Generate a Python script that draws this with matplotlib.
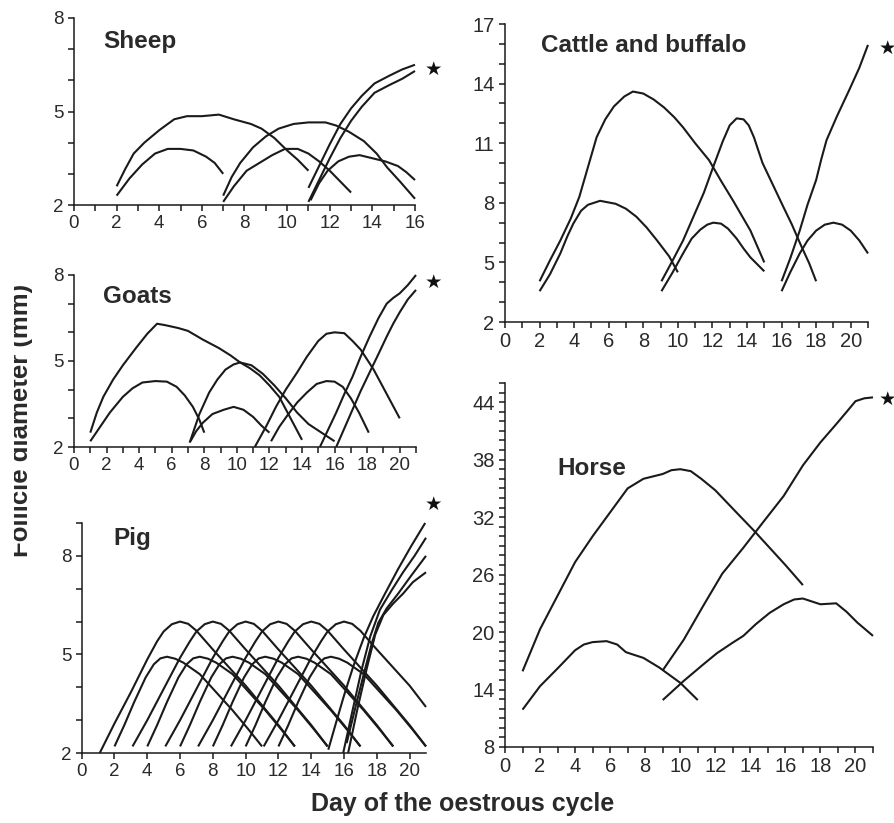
import matplotlib
matplotlib.use("Agg")
import matplotlib.pyplot as plt
from matplotlib.ticker import FixedLocator, NullFormatter
from matplotlib.transforms import Bbox

plt.rcParams['font.family'] = ['Liberation Sans', 'DejaVu Sans']

W, H = 895, 823
LINE = '#1a1a1a'
TXT = '#2a2a2a'

# ---------------- Sheep ----------------
sheep_days = [
    [2, 2.4, 2.8, 3.3, 4, 4.7, 5.3, 6, 6.8, 7.5, 8.3, 8.8, 9.4, 10, 10.5, 11],
    [2, 2.6, 3.2, 3.8, 4.4, 5, 5.6, 6.2, 6.6, 7],
    [7, 7.4, 7.8, 8.4, 9, 9.6, 10.3, 11, 11.8, 12.3, 12.9, 13.6, 14.2, 14.7, 15.3, 16],
    [7, 7.5, 8.1, 8.7, 9.3, 9.9, 10.5, 11, 11.5, 12, 12.5, 13],
    [11.1, 11.5, 11.9, 12.4, 12.9, 13.4, 14, 14.6, 15.2, 15.6, 16],
    [11, 11.5, 12, 12.5, 13, 13.5, 14.1, 14.8, 15.4, 16],
    [11, 11.5, 12, 12.5, 13, 13.5, 14.1, 14.8, 15.4, 16],
]
sheep_vals = [
    [2.6, 3.15, 3.65, 4.0, 4.4, 4.75, 4.85, 4.85, 4.9, 4.75, 4.6, 4.45, 4.15, 3.75, 3.45, 3.1],
    [2.3, 2.85, 3.3, 3.65, 3.8, 3.8, 3.75, 3.55, 3.35, 3.0],
    [2.3, 2.9, 3.35, 3.85, 4.2, 4.45, 4.6, 4.65, 4.65, 4.55, 4.35, 4.05, 3.65, 3.2, 2.75, 2.2],
    [2.1, 2.6, 3.1, 3.35, 3.6, 3.8, 3.8, 3.65, 3.4, 3.1, 2.75, 2.4],
    [2.15, 2.7, 3.1, 3.4, 3.55, 3.6, 3.5, 3.4, 3.25, 3.05, 2.8],
    [2.55, 3.25, 3.95, 4.6, 5.1, 5.5, 5.9, 6.15, 6.35, 6.5],
    [2.1, 2.8, 3.5, 4.15, 4.7, 5.15, 5.6, 5.85, 6.05, 6.3],
]

# ---------------- Goats ----------------
goat_days = [
    [1, 1.4, 1.8, 2.4, 3, 3.8, 4.5, 5.1, 5.6, 6.4, 7, 7.9, 8.9, 9.6, 10.2, 10.8, 11.4, 12, 12.6, 13.3, 14],
    [1, 1.6, 2.2, 3, 3.6, 4.2, 5, 5.7, 6.3, 6.8, 7.3, 7.7, 8],
    [7.1, 7.7, 8.3, 8.8, 9.3, 9.8, 10.2, 10.9, 11.6, 12.3, 13, 13.7, 14.4, 15.2, 16],
    [7.15, 7.5, 7.9, 8.5, 9.2, 9.8, 10.4, 11, 11.5, 12],
    [11.1, 11.8, 12.4, 13, 13.7, 14.3, 15, 15.5, 16, 16.6, 17.1, 17.6, 18.4, 19.2, 20],
    [12.1, 12.6, 13.1, 13.7, 14.3, 14.9, 15.5, 16, 16.5, 17, 17.5, 18.1],
    [15.1, 15.6, 16.1, 16.6, 17.1, 17.6, 18.15, 18.7, 19.2, 19.6, 20, 20.5, 21],
    [16.1, 16.6, 17.1, 17.6, 18.15, 18.7, 19.2, 19.6, 20, 20.5, 21],
]
goat_vals = [
    [2.5, 3.2, 3.75, 4.35, 4.85, 5.45, 5.95, 6.3, 6.25, 6.15, 6.05, 5.75, 5.45, 5.2, 4.95, 4.75, 4.5, 4.15, 3.75, 3.0, 2.25],
    [2.2, 2.7, 3.2, 3.75, 4.05, 4.25, 4.3, 4.28, 4.1, 3.8, 3.4, 2.95, 2.5],
    [2.15, 3.15, 3.9, 4.35, 4.7, 4.88, 4.95, 4.85, 4.55, 4.15, 3.7, 3.2, 2.8, 2.5, 2.2],
    [2.2, 2.55, 2.84, 3.15, 3.3, 3.4, 3.3, 3.05, 2.75, 2.5],
    [2.0, 2.72, 3.4, 4.0, 4.6, 5.15, 5.7, 5.95, 6.0, 5.97, 5.7, 5.4, 4.7, 3.85, 3.0],
    [2.2, 2.7, 3.1, 3.55, 3.9, 4.2, 4.3, 4.28, 4.1, 3.7, 3.2, 2.5],
    [2.0, 2.6, 3.2, 3.85, 4.45, 5.15, 5.85, 6.5, 7.0, 7.2, 7.36, 7.65, 8.0],
    [2.0, 2.65, 3.3, 3.95, 4.6, 5.25, 5.85, 6.3, 6.7, 7.15, 7.48],
]

# ---------------- Pig ----------------
pig_days = [
    # larger (6 mm) follicles
    [1.1, 2, 3, 4, 4.6, 5, 5.5, 6, 6.5, 7, 8, 9, 10, 11, 12, 13],
    [3.1, 4, 5, 6, 6.6, 7, 7.5, 8, 8.5, 9, 10, 11, 12, 13, 14, 15],
    [5.1, 6, 7, 8, 8.6, 9, 9.5, 10, 10.5, 11, 12, 13, 14, 15, 16, 17],
    [7.1, 8, 9, 10, 10.6, 11, 11.5, 12, 12.5, 13, 14, 15, 16, 17, 18, 19],
    [9.1, 10, 11, 12, 12.6, 13, 13.5, 14, 14.5, 15, 16, 17, 18, 19, 20, 21],
    [11.1, 12, 13, 14, 14.6, 15, 15.5, 16, 16.5, 17, 18, 19, 20, 21],
    # smaller (5 mm) follicles
    [2.0, 2.6, 3.2, 3.9, 4.4, 4.8, 5.2, 5.7, 6.2, 7.2, 8.2, 9.2, 10.2, 11.0],
    [4.0, 4.6, 5.2, 5.9, 6.4, 6.8, 7.2, 7.7, 8.2, 9.2, 10.2, 11.2, 12.2, 13.0],
    [6.0, 6.6, 7.2, 7.9, 8.4, 8.8, 9.2, 9.7, 10.2, 11.2, 12.2, 13.2, 14.2, 15.0],
    [8.0, 8.6, 9.2, 9.9, 10.4, 10.8, 11.2, 11.7, 12.2, 13.2, 14.2, 15.2, 16.2, 17.0],
    [10.0, 10.6, 11.2, 11.9, 12.4, 12.8, 13.2, 13.7, 14.2, 15.2, 16.2, 17.2, 18.2, 19.0],
    [12.0, 12.6, 13.2, 13.9, 14.4, 14.8, 15.2, 15.7, 16.2, 17.2, 18.2, 19.2, 20.2, 21.0],
    # ovulatory follicles
    [15.04, 15.5, 16.0, 16.56, 17.2, 17.78, 18.5, 19.3, 20.1, 20.95],
    [15.95, 16.5, 17.07, 17.6, 18.19, 18.9, 19.6, 20.3, 21.0],
    [16.16, 16.7, 17.27, 17.7, 18.09, 18.6, 19.3, 20.1, 21.0],
    [16.25, 16.8, 17.4, 17.9, 18.4, 19.0, 19.6, 20.2, 20.6, 21.0],
]
pig_vals = [
    [2.0, 2.9, 3.85, 4.85, 5.4, 5.7, 5.92, 6.0, 5.93, 5.72, 5.15, 4.6, 4.05, 3.45, 2.85, 2.2],
    [2.2, 3.0, 3.95, 4.9, 5.4, 5.7, 5.92, 6.0, 5.93, 5.72, 5.15, 4.6, 4.05, 3.45, 2.85, 2.2],
    [2.2, 3.0, 3.95, 4.9, 5.4, 5.7, 5.92, 6.0, 5.93, 5.72, 5.15, 4.6, 4.05, 3.45, 2.85, 2.2],
    [2.2, 3.0, 3.95, 4.9, 5.4, 5.7, 5.92, 6.0, 5.93, 5.72, 5.15, 4.6, 4.05, 3.45, 2.85, 2.2],
    [2.2, 3.0, 3.95, 4.9, 5.4, 5.7, 5.92, 6.0, 5.93, 5.72, 5.15, 4.6, 4.05, 3.45, 2.85, 2.2],
    [2.2, 3.0, 3.95, 4.9, 5.4, 5.7, 5.92, 6.0, 5.93, 5.72, 5.15, 4.6, 4.05, 3.4],
    [2.2, 2.85, 3.55, 4.3, 4.7, 4.88, 4.93, 4.87, 4.75, 4.4, 3.85, 3.3, 2.7, 2.2],
    [2.2, 2.85, 3.55, 4.3, 4.7, 4.88, 4.93, 4.87, 4.75, 4.4, 3.85, 3.3, 2.7, 2.2],
    [2.2, 2.85, 3.55, 4.3, 4.7, 4.88, 4.93, 4.87, 4.75, 4.4, 3.85, 3.3, 2.7, 2.2],
    [2.2, 2.85, 3.55, 4.3, 4.7, 4.88, 4.93, 4.87, 4.75, 4.4, 3.85, 3.3, 2.7, 2.2],
    [2.2, 2.85, 3.55, 4.3, 4.7, 4.88, 4.93, 4.87, 4.75, 4.4, 3.85, 3.3, 2.7, 2.2],
    [2.2, 2.85, 3.55, 4.3, 4.7, 4.88, 4.93, 4.87, 4.75, 4.4, 3.85, 3.3, 2.7, 2.2],
    [2.1, 2.9, 3.75, 4.63, 5.5, 6.16, 6.85, 7.6, 8.3, 9.0],
    [2.0, 3.25, 4.53, 5.55, 6.36, 6.95, 7.5, 8.0, 8.55],
    [2.3, 3.4, 4.53, 5.35, 5.96, 6.4, 6.85, 7.4, 8.0],
    [2.0, 3.3, 4.6, 5.6, 6.2, 6.55, 6.85, 7.2, 7.35, 7.5],
]

# ---------------- Cattle and buffalo ----------------
cattle_days = [
    [2, 2.6, 3.2, 3.8, 4.3, 4.8, 5.3, 5.8, 6.3, 6.9, 7.4, 8, 8.6, 9.2, 9.8, 10.3, 11, 11.8, 12.5, 13.2, 13.8, 14.2, 14.6, 15],
    [2, 2.6, 3.2, 3.6, 3.95, 4.4, 4.8, 5.5, 6.4, 7.0, 7.6, 8.2, 8.8, 9.5, 10],
    [9.05, 9.7, 10.3, 10.9, 11.5, 12.0, 12.6, 13.0, 13.4, 13.8, 14.1, 14.4, 14.9, 15.5, 16.1, 16.6, 17.1, 17.6, 18],
    [9.05, 9.7, 10.3, 10.8, 11.3, 11.7, 12.05, 12.5, 12.9, 13.4, 13.8, 14.2, 14.6, 15],
    [16, 16.5, 17.05, 17.5, 18, 18.3, 18.6, 19.2, 19.9, 20.5, 21],
    [16, 16.5, 17.05, 17.5, 18, 18.5, 19, 19.5, 20, 20.5, 21],
]
cattle_vals = [
    [4.05, 5.1, 6.1, 7.2, 8.3, 9.8, 11.3, 12.2, 12.85, 13.35, 13.6, 13.5, 13.2, 12.8, 12.3, 11.8, 11.0, 10.15, 9.1, 8.1, 7.2, 6.6, 5.8, 5.0],
    [3.55, 4.4, 5.45, 6.3, 6.95, 7.6, 7.9, 8.1, 7.95, 7.7, 7.3, 6.75, 6.1, 5.3, 4.5],
    [4.05, 5.1, 6.1, 7.3, 8.5, 9.7, 11.1, 11.9, 12.25, 12.2, 11.9, 11.3, 10.0, 8.9, 7.8, 6.9, 5.9, 4.95, 4.05],
    [3.55, 4.5, 5.45, 6.2, 6.65, 6.9, 7.0, 6.95, 6.7, 6.2, 5.7, 5.25, 4.9, 4.55],
    [4.05, 5.2, 6.6, 7.9, 9.15, 10.2, 11.15, 12.35, 13.65, 14.8, 15.95],
    [3.55, 4.5, 5.45, 6.1, 6.6, 6.9, 7.0, 6.9, 6.6, 6.1, 5.45],
]

# ---------------- Horse ----------------
horse_days = [
    [1, 2, 3, 4, 5, 6, 7, 7.9, 9, 9.5, 10, 10.6, 11.2, 12, 13.2, 14.2, 15.1, 16, 17],
    [1, 2, 3, 4, 4.5, 5, 5.8, 6.4, 6.9, 7.9, 8.8, 10, 11],
    [9, 10.2, 11.3, 12.4, 13.6, 14.7, 15.9, 17, 18, 18.9, 19.5, 20, 20.5, 21],
    [9, 10.2, 11.3, 12.1, 13, 13.6, 14.3, 15.1, 15.9, 16.5, 17, 17.5, 18, 18.9, 19.5, 20.1, 21],
]
horse_vals = [
    [15.9, 20.3, 23.8, 27.3, 30.0, 32.5, 35.0, 36.0, 36.5, 36.9, 37.0, 36.8, 36.0, 34.8, 32.5, 30.6, 28.8, 27.0, 24.9],
    [11.9, 14.35, 16.2, 18.1, 18.7, 18.95, 19.05, 18.7, 17.9, 17.3, 16.3, 14.7, 12.9],
    [16.0, 19.2, 22.7, 26.1, 28.8, 31.4, 34.2, 37.4, 39.8, 41.7, 43.0, 44.1, 44.4, 44.5],
    [12.9, 14.9, 16.6, 17.8, 18.9, 19.6, 20.8, 22.0, 22.9, 23.4, 23.5, 23.2, 22.9, 23.0, 22.1, 21.0, 19.6],
]

panel_titles = ["Sheep", "Goats", "Pig", "Cattle and buffalo", "Horse"]
x_label = "Day of the oestrous cycle"
y_label = "Follicle diameter (mm)"


def px_rect(left, right, top, bottom):
    return [left / W, 1 - bottom / H, (right - left) / W, (bottom - top) / H]


fig = plt.figure(figsize=(W / 100, H / 100), dpi=100)


def setup(ax, xlim, ylim, xmaj, xmin, ymaj, ymin, lsize):
    ax.set_xlim(*xlim)
    ax.set_ylim(*ylim)
    for s in ('top', 'right'):
        ax.spines[s].set_visible(False)
    for s in ('left', 'bottom'):
        ax.spines[s].set_color(LINE)
        ax.spines[s].set_linewidth(1.1)
    ax.xaxis.set_major_locator(FixedLocator(xmaj))
    ax.xaxis.set_minor_locator(FixedLocator(xmin))
    ax.yaxis.set_major_locator(FixedLocator(ymaj))
    ax.yaxis.set_minor_locator(FixedLocator(ymin))
    ax.xaxis.set_minor_formatter(NullFormatter())
    ax.yaxis.set_minor_formatter(NullFormatter())
    ax.tick_params(which='both', direction='out', length=4.5, width=1.1,
                   color=LINE, labelsize=lsize, labelcolor=TXT, pad=3)
    ax.patch.set_visible(False)


def draw(ax, days, vals):
    for d, v in zip(days, vals):
        ax.plot(d, v, color=LINE, lw=1.5, solid_capstyle='butt', clip_on=False)


ax_s = fig.add_axes(px_rect(74, 415, 18, 205))
setup(ax_s, (0, 16), (2, 8), range(0, 17, 2), range(1, 17, 2), [2, 5, 8], [3, 4, 6, 7], 13.5)
draw(ax_s, sheep_days, sheep_vals)

ax_g = fig.add_axes(px_rect(74, 416, 275, 447))
setup(ax_g, (0, 21), (2, 8), range(0, 21, 2), range(1, 22, 2), [2, 5, 8], [3, 4, 6, 7], 13.5)
draw(ax_g, goat_days, goat_vals)

ax_p = fig.add_axes(px_rect(81.7, 426, 523, 753))
setup(ax_p, (0, 21), (2, 9), range(0, 21, 2), [], [2, 5, 8], [3, 4, 6, 7, 9], 13.5)
draw(ax_p, pig_days, pig_vals)

ax_c = fig.add_axes(px_rect(505, 868, 24, 322))
setup(ax_c, (0, 21), (2, 17), range(0, 21, 2), range(1, 22, 2),
      [2, 5, 8, 11, 14, 17], [v for v in range(2, 18) if (v - 2) % 3], 14.5)
draw(ax_c, cattle_days, cattle_vals)

ax_h = fig.add_axes(px_rect(505, 873, 383, 747))
setup(ax_h, (0, 21), (8, 46), range(0, 21, 2), range(1, 22, 2),
      list(range(8, 45, 6)), [v for v in range(8, 47) if (v - 8) % 6], 14.5)
draw(ax_h, horse_days, horse_vals)

# panel titles (pixel positions of left edge and baseline)
title_pos = [(103, 48), (103, 303), (113, 545), (541, 52), (557, 475)]
for t, (x, y) in zip(panel_titles, title_pos):
    fig.text(x / W, 1 - y / H, t, fontsize=17.5, fontweight='bold',
             color=TXT, ha='left', va='baseline')

# stars marking the ovulatory follicle
star_pos = [(433, 69), (433, 282), (433, 504), (887, 48), (887, 399)]
for x, y in star_pos:
    fig.text(x / W, 1 - y / H, '\u2605', fontsize=14, color='#111111',
             family='DejaVu Sans', ha='center', va='center')

fig.text(463 / W, 1 - 811 / H, x_label, fontsize=18, fontweight='bold',
         color=TXT, ha='center', va='baseline')

yl = fig.text(28 / W, 1 - 420 / H, y_label, fontsize=18.5, fontweight='bold',
              color=TXT, rotation=90, rotation_mode='anchor',
              ha='center', va='baseline')
yl.set_clip_box(Bbox.from_extents(14, 0, W, H))
yl.set_clip_on(True)

fig.savefig('out.png', dpi=100)
